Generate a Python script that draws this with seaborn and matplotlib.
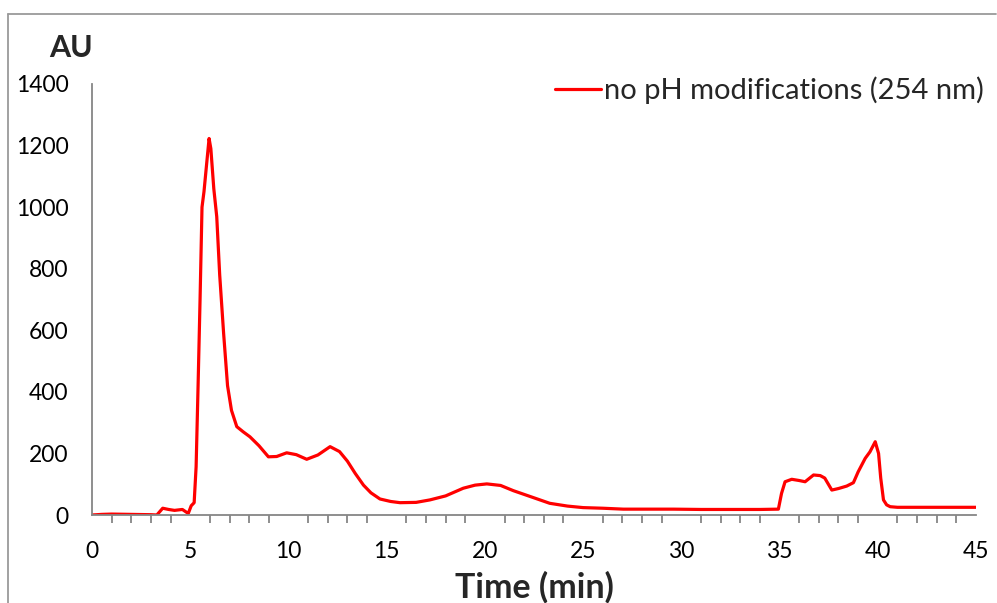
import matplotlib
matplotlib.use("Agg")
import matplotlib.pyplot as plt
import seaborn as sns
import pandas as pd
from matplotlib.lines import Line2D
from matplotlib.ticker import MultipleLocator

time_min = [0.0, 0.5, 1.0, 2.0, 3.0, 3.3, 3.6, 3.9, 4.2, 4.6, 4.9, 5.05, 5.2, 5.3, 5.4,
            5.5, 5.6, 5.7, 5.85, 5.96, 6.05, 6.2, 6.35, 6.5, 6.7, 6.9, 7.1, 7.37, 7.7,
            8.04, 8.5, 8.98, 9.4, 9.91, 10.4, 10.93, 11.5, 12.12, 12.6, 13.0, 13.4,
            13.82, 14.2, 14.66, 15.2, 15.68, 16.5, 17.2, 18.0, 18.9, 19.5, 20.1, 20.8,
            21.45, 22.4, 23.3, 24.2, 25.0, 26.0, 27.05, 28.3, 29.6, 31.0, 32.5, 34.0,
            34.94, 35.1, 35.28, 35.62, 36.0, 36.3, 36.73, 37.07, 37.3, 37.66, 38.0,
            38.42, 38.76, 39.0, 39.36, 39.6, 39.87, 40.04, 40.15, 40.29, 40.45, 40.63,
            41.0, 42.0, 43.0, 44.0, 45.0]
au_254 = [0, 2, 3, 2, 1, 0, 22, 18, 15, 18, 5, 30, 40, 157, 420,
          698, 1000, 1050, 1150, 1223, 1190, 1060, 969, 780, 590, 420, 340, 287, 270,
          254, 225, 189, 190, 202, 196, 181, 195, 222, 206, 175, 135,
          97, 72, 52, 44, 40, 41, 49, 62, 87, 97, 101, 96,
          79, 58, 38, 29, 24, 22, 19, 19, 19, 18, 18, 18,
          19, 70, 108, 116, 112, 108, 130, 128, 120, 81, 86,
          94, 105, 140, 184, 205, 238, 200, 120, 49, 33, 27,
          25, 25, 25, 25, 25]

df = pd.DataFrame({"Time (min)": time_min, "AU": au_254})

sns.set_theme(style="white")
plt.rcParams["font.family"] = ["Lato", "DejaVu Sans"]

fig = plt.figure(figsize=(9.97, 6.03), dpi=100)
ax = fig.add_axes([92 / 997, 1 - 515 / 603, (976 - 92) / 997, (515 - 84) / 603])

sns.lineplot(data=df, x="Time (min)", y="AU", ax=ax, color="#FF0000", linewidth=2.3,
             label="no pH modifications (254 nm)", sort=False)

ax.set_xlim(0, 45)
ax.set_ylim(0, 1400)
ax.xaxis.set_major_locator(MultipleLocator(5))
ax.xaxis.set_minor_locator(MultipleLocator(1))
ax.yaxis.set_major_locator(MultipleLocator(200))

for s in ["top", "right"]:
    ax.spines[s].set_visible(False)
for s in ["left", "bottom"]:
    ax.spines[s].set_color("#868686")
    ax.spines[s].set_linewidth(1.3)

ax.tick_params(axis="both", which="major", direction="out", length=7, width=1.3,
               color="#868686", labelsize=16.5, labelcolor="black")
ax.tick_params(axis="x", which="major", length=8, pad=11)
ax.tick_params(axis="y", which="major", pad=10)
ax.tick_params(axis="x", which="minor", direction="out", length=6, width=1.3,
               color="#868686", bottom=True)

ax.set_xlabel("Time (min)", fontsize=24.5, fontweight="bold", labelpad=6)
ax.set_ylabel("")
fig.text(49 / 997, 1 - 48 / 603, "AU", fontsize=22, fontweight="bold",
         ha="left", va="center")

leg = ax.legend(loc="upper right", bbox_to_anchor=(1.009, 1.018), frameon=False,
                fontsize=21, handlelength=1.55, handletextpad=0.12,
                borderaxespad=0, borderpad=0)

# chart area border (left and top visible)
fig.add_artist(Line2D([8 / 997, 8 / 997], [0, 1 - 14 / 603], transform=fig.transFigure,
                      color="#9a9a9a", linewidth=1.3))
fig.add_artist(Line2D([8 / 997, 996 / 997], [1 - 14 / 603, 1 - 14 / 603],
                      transform=fig.transFigure, color="#9a9a9a", linewidth=1.3))

fig.savefig("out.png", dpi=100)
